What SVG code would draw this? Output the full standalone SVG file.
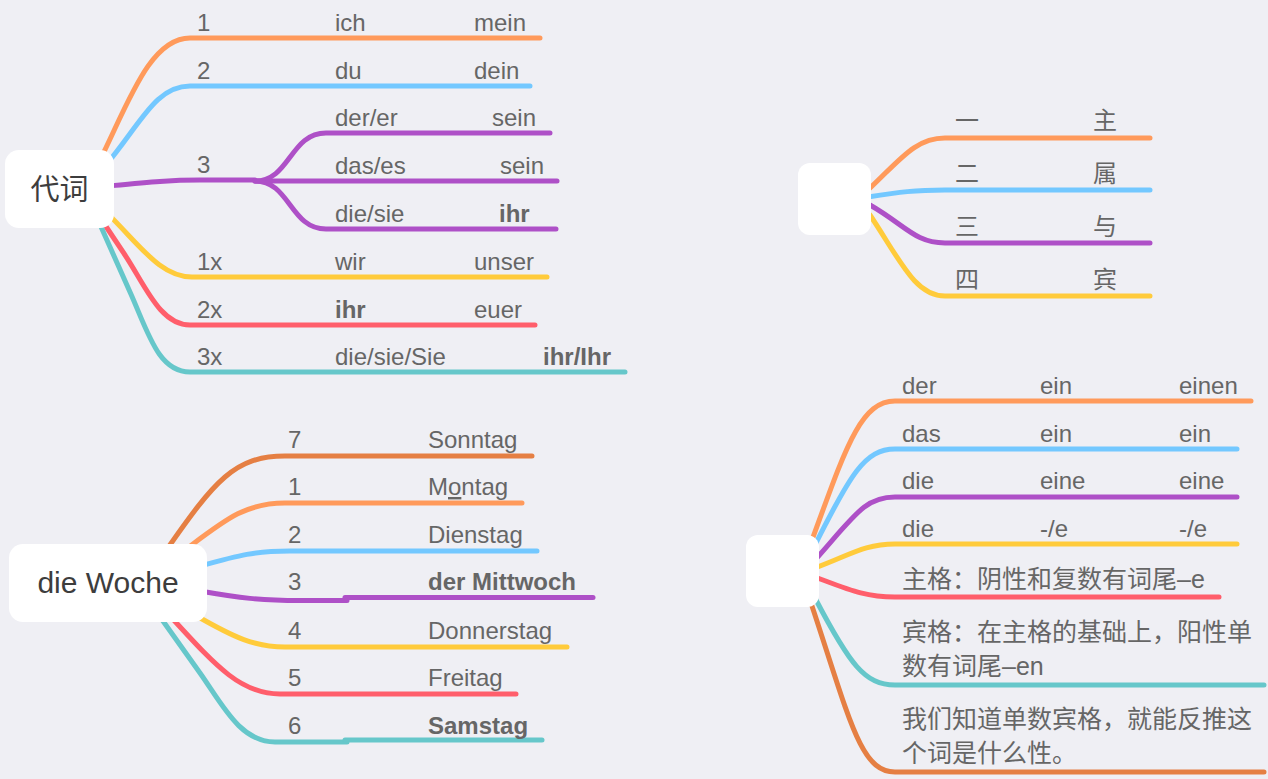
<svg xmlns="http://www.w3.org/2000/svg" width="1268" height="779" viewBox="0 0 1268 779">
<style>
.bg{fill:#efeff4}
.node{fill:#ffffff}
.ln{fill:none;stroke-width:5;stroke-linecap:round;stroke-linejoin:round}
.t{font-family:"Liberation Sans","Noto Sans CJK SC",sans-serif;font-size:24px;fill:#666666}
.b{font-weight:bold}
.nt{font-family:"Liberation Sans","Noto Sans CJK SC",sans-serif;font-size:30px;fill:#3d3d3d}
.c{font-family:"Liberation Sans","Noto Sans CJK SC",sans-serif;font-size:24px;fill:#666666}
.zh{font-size:25px}
.o{stroke:#ff9a5b}.bl{stroke:#73c8ff}.p{stroke:#ae50c7}.y{stroke:#ffcb3b}.r{stroke:#ff5e6b}.te{stroke:#66c7ca}.d{stroke:#e57f43}
</style>
<rect class="bg" x="0" y="0" width="1268" height="779"/>
<g id="connectors">
<path class="ln o" d="M96 168 C126 110 148 38 190 38 H540"/>
<path class="ln bl" d="M105 166 C140 125 155 86 190 86 H530"/>
<path class="ln p" d="M108 186 C150 182 170 180 200 180 H255"/>
<path class="ln p" d="M255 181 C290 181 290 133 326 133 H550"/>
<path class="ln p" d="M255 181 H557"/>
<path class="ln p" d="M255 181 C290 181 290 229 326 229 H556"/>
<path class="ln y" d="M106 212 C140 245 160 277 192 277 H547"/>
<path class="ln r" d="M103 222 L125 255 C145 285 160 325 190 325 H535"/>
<path class="ln te" d="M98 220 L130 292 C148 332 158 372 190 372 H625"/>

<path class="ln o" d="M868 190 C900 160 915 138 945 138 H1150"/>
<path class="ln bl" d="M868 197 C900 192 915 190 945 190 H1150"/>
<path class="ln p" d="M870 205 C905 225 915 243 945 243 H1150"/>
<path class="ln y" d="M870 215 C900 260 915 296 945 296 H1150"/>

<path class="ln d" d="M165 552 C215 480 235 456 285 456 H532"/>
<path class="ln o" d="M185 550 C225 520 245 503 285 503 H522"/>
<path class="ln bl" d="M200 566 C240 555 255 551 290 551 H537"/>
<path class="ln p" d="M200 591 C240 598 260 600.5 300 600.5 H347"/>
<path class="ln p" d="M345 597.5 H593"/>
<path class="ln y" d="M195 615 C235 638 255 647 285 647 H567"/>
<path class="ln r" d="M170 616 C215 665 240 694 280 694 H516"/>
<path class="ln te" d="M158 614 L200 673 C222 704 240 742 275 742 H347"/>
<path class="ln te" d="M345 740 H542"/>

<path class="ln o" d="M812 540 C845 450 860 401 895 401 H1251"/>
<path class="ln bl" d="M815 545 C850 475 865 449 895 449 H1237"/>
<path class="ln p" d="M815 560 C855 515 865 497 895 497 H1237"/>
<path class="ln y" d="M815 568 C850 555 865 544 895 544 H1237"/>
<path class="ln r" d="M815 577 C850 590 865 597 895 597 H1219"/>
<path class="ln te" d="M815 598 C850 665 865 685 895 685 H1264"/>
<path class="ln d" d="M810 600 C850 720 860 772 895 772 H1264"/>
</g>

<g id="node-daici">
<rect class="node" x="5" y="150" width="109" height="78" rx="14"/>
<text class="nt" x="59.5" y="200" text-anchor="middle" style="font-size:29px">代词</text>
</g>
<g id="labels-daici">
<text class="t" x="197" y="31">1</text><text class="t" x="335" y="31">ich</text><text class="t" x="474" y="31">mein</text>
<text class="t" x="197" y="79">2</text><text class="t" x="335" y="79">du</text><text class="t" x="474" y="79">dein</text>
<text class="t" x="197" y="173">3</text>
<text class="t" x="335" y="126">der/er</text><text class="t" x="492" y="126">sein</text>
<text class="t" x="335" y="174">das/es</text><text class="t" x="500" y="174">sein</text>
<text class="t" x="335" y="222">die/sie</text><text class="t b" x="499" y="222">ihr</text>
<text class="t" x="197" y="270">1x</text><text class="t" x="335" y="270">wir</text><text class="t" x="474" y="270">unser</text>
<text class="t" x="197" y="318">2x</text><text class="t b" x="335" y="318">ihr</text><text class="t" x="474" y="318">euer</text>
<text class="t" x="197" y="365">3x</text><text class="t" x="335" y="365">die/sie/Sie</text><text class="t b" x="543" y="365">ihr/Ihr</text>
</g>

<g id="node-cases">
<rect class="node" x="798" y="163" width="73" height="72" rx="12"/>
</g>
<g id="labels-cases">
<text class="c" x="955" y="129">一</text><text class="c" x="1093" y="129">主</text>
<text class="c" x="955" y="182">二</text><text class="c" x="1093" y="182">属</text>
<text class="c" x="955" y="235">三</text><text class="c" x="1093" y="235">与</text>
<text class="c" x="955" y="288">四</text><text class="c" x="1093" y="288">宾</text>
</g>

<g id="node-woche">
<rect class="node" x="9" y="544" width="198" height="78" rx="14"/>
<text class="nt" x="108" y="593" text-anchor="middle">die Woche</text>
</g>
<g id="labels-woche">
<text class="t" x="288" y="448">7</text><text class="t" x="428" y="448">Sonntag</text>
<text class="t" x="288" y="495">1</text><text class="t" x="428" y="495">M<tspan text-decoration="underline">o</tspan>ntag</text>
<text class="t" x="288" y="543">2</text><text class="t" x="428" y="543">Dienstag</text>
<text class="t" x="288" y="590">3</text><text class="t b" x="428" y="590">der Mittwoch</text>
<text class="t" x="288" y="639">4</text><text class="t" x="428" y="639">Donnerstag</text>
<text class="t" x="288" y="686">5</text><text class="t" x="428" y="686">Freitag</text>
<text class="t" x="288" y="734">6</text><text class="t b" x="428" y="734">Samstag</text>
</g>

<g id="node-articles">
<rect class="node" x="746" y="535" width="73" height="72" rx="12"/>
</g>
<g id="labels-articles">
<text class="c" x="902" y="394">der</text><text class="c" x="1040" y="394">ein</text><text class="c" x="1179" y="394">einen</text>
<text class="c" x="902" y="442">das</text><text class="c" x="1040" y="442">ein</text><text class="c" x="1179" y="442">ein</text>
<text class="c" x="902" y="489">die</text><text class="c" x="1040" y="489">eine</text><text class="c" x="1179" y="489">eine</text>
<text class="c" x="902" y="537">die</text><text class="c" x="1040" y="537">-/e</text><text class="c" x="1179" y="537">-/e</text>
<text class="c zh" x="902" y="588">主格：阴性和复数有词尾–e</text>
<text class="c zh" x="902" y="641">宾格：在主格的基础上，阳性单</text>
<text class="c zh" x="902" y="675">数有词尾–en</text>
<text class="c zh" x="902" y="728">我们知道单数宾格，就能反推这</text>
<text class="c zh" x="902" y="762">个词是什么性。</text>
</g>
</svg>
